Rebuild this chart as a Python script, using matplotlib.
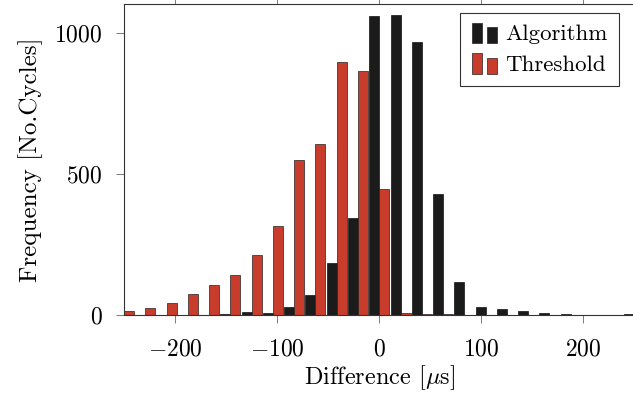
import numpy as np
import matplotlib
matplotlib.use("Agg")
import matplotlib.pyplot as plt
from matplotlib.patches import Rectangle
from matplotlib.legend_handler import HandlerBase

plt.rcParams["font.family"] = "serif"
plt.rcParams["font.serif"] = ["cmr10"]
plt.rcParams["mathtext.fontset"] = "cm"
plt.rcParams["axes.formatter.use_mathtext"] = True

# Histogram bins: 24 equal bins over [-250, 250] us, bars placed at the bin edges
bin_edges = np.linspace(-250, 250, 25)

# Counts per bin (Algorithm vs. Threshold detection)
algorithm = [0, 0, 0, 0, 1, 3, 12, 8, 27, 72, 183, 343, 1061, 1064, 969, 428,
             118, 28, 20, 14, 8, 4, 0, 0, 5]
threshold = [15, 26, 41, 76, 105, 143, 214, 317, 550, 606, 898, 866, 448, 7, 5, 2,
             0, 0, 0, 0, 0, 0, 0, 0, 0]

series_names = ["Algorithm", "Threshold"]
black = "#1b1b1b"
red = "#c83c2c"

fig = plt.figure(figsize=(6.33, 4.0), dpi=100)
ax = fig.add_axes([124 / 633, 1 - 315 / 400, 510.5 / 633, 311 / 400])

bw = 9.8
ax.bar(bin_edges - bw / 2, algorithm, width=bw, color=black, edgecolor="#111111",
       linewidth=0.5, label=series_names[0])
ax.bar(bin_edges + bw / 2, threshold, width=bw, color=red, edgecolor="#222222",
       linewidth=0.5, label=series_names[1])

ax.set_xlim(-250, 250)
ax.set_ylim(0, 1103)
ax.set_xticks([-200, -100, 0, 100, 200])
ax.set_yticks([0, 500, 1000])
ax.tick_params(axis="both", direction="out", length=5.5, width=0.6, color="#666666",
               labelsize=17)
ax.tick_params(axis="y", pad=10)
ax.tick_params(axis="x", top=True, pad=11)
for s in ax.spines.values():
    s.set_linewidth(0.8)
    s.set_color("#333333")

ax.set_xlabel(r"Difference [$\mu$s]", fontsize=17.5, labelpad=2)
ax.set_ylabel("Frequency [No.Cycles]", fontsize=18, labelpad=8)


class TwoBarHandler(HandlerBase):
    """Legend key drawn as a pair of small bars."""

    def create_artists(self, legend, orig_handle, xdescent, ydescent, width,
                       height, fontsize, trans):
        fc = orig_handle.patches[0].get_facecolor()
        w = width * 0.4
        x0 = -xdescent
        y0 = -ydescent - height * 0.2
        r1 = Rectangle((x0, y0), w, height * 1.3, facecolor=fc,
                       edgecolor="#222222", linewidth=0.5, transform=trans)
        r2 = Rectangle((x0 + width * 0.6, y0), w, height * 1.0, facecolor=fc,
                       edgecolor="#222222", linewidth=0.5, transform=trans)
        return [r1, r2]


handles, labels = ax.get_legend_handles_labels()
leg = ax.legend(handles, labels, loc="upper right",
                bbox_to_anchor=(619 / 633, 1 - 12.7 / 400),
                bbox_transform=fig.transFigure, borderaxespad=0,
                fontsize=16.5, handlelength=1.1, handletextpad=0.35,
                labelspacing=0.45, borderpad=0.5, fancybox=False,
                framealpha=1, edgecolor="#333333",
                handler_map={h: TwoBarHandler() for h in handles})
leg.get_frame().set_linewidth(0.8)

fig.savefig("out.png", dpi=100)
